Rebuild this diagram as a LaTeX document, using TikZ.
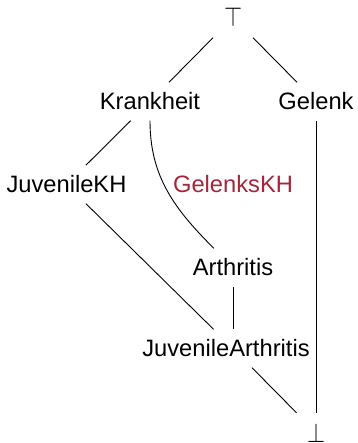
\documentclass[tikz,border=0pt]{standalone}
\usepackage{fontspec}
\usepackage{graphicx}
\setmainfont{Liberation Sans}
\definecolor{gkred}{RGB}{165,38,58}
\begin{document}
\begin{tikzpicture}[x=1pt,y=1pt,
  concept/.style={font=\fontsize{23.7}{28}\selectfont, text height=17pt, text depth=0pt,
    inner xsep=2pt, inner ysep=10.5pt},
  bound/.style={inner sep=0pt, minimum width=40pt, minimum height=40pt},
  edge/.style={line width=0.9pt, black}]
\useasboundingbox (0,0) rectangle (357,443);
\node[bound] (top) at (233,425.5) {\resizebox{18pt}{19pt}{$\top$}};
\node[concept] (kr) at (150,341.5) {Krankheit};
\node[concept] (ge) at (316,341.5) {Gelenk};
\node[concept] (jkh) at (66.5,258.5) {JuvenileKH};
\node[concept, text=gkred] (gkh) at (233,258.5) {GelenksKH};
\node[concept] (ar) at (233,175.5) {Arthritis};
\node[concept] (ja) at (233,94.5) {\kern-14pt JuvenileArthritis};
\node[bound, minimum height=39pt] (bot) at (316,10.5) {\resizebox{18pt}{19pt}{$\bot$}};
\draw[edge] (top) -- (kr);
\draw[edge] (top) -- (ge);
\draw[edge] (kr) -- (jkh);
\draw[edge] (kr) to[out=-90,in=135] (ar);
\draw[edge] (ge) -- (bot);
\draw[edge] (jkh) -- (ja);
\draw[edge] (ar) -- (ja);
\draw[edge] (ja) -- (bot);
\end{tikzpicture}
\end{document}
